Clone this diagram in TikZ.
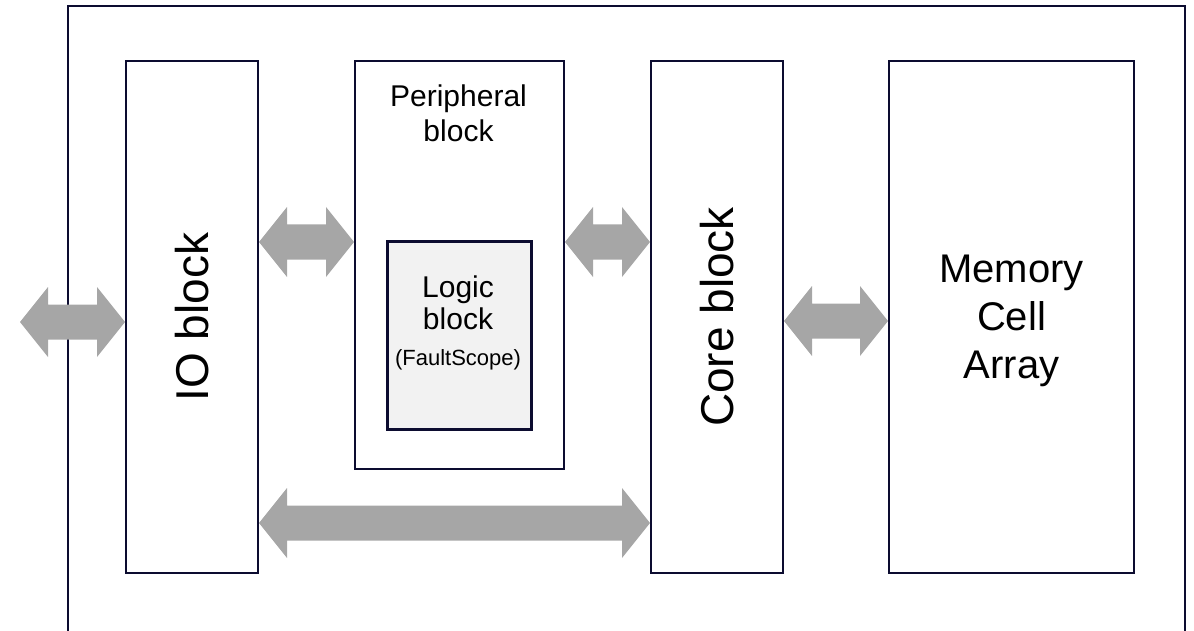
\documentclass[tikz,border=0pt]{standalone}
\usepackage{fontspec}
\setmainfont{Liberation Sans}
\usetikzlibrary{calc}
\definecolor{framec}{RGB}{12,12,48}
\definecolor{arrowgray}{RGB}{166,166,166}
\definecolor{logicfill}{RGB}{242,242,242}
\tikzset{
  blk/.style={draw=framec, line width=2pt, fill=white, inner sep=0pt, anchor=north west},
  logicbox/.style={draw=framec, line width=3pt, fill=logicfill, inner sep=0pt, anchor=north west},
  fatarrow/.style={fill=arrowgray, draw=none},
  bigtxt/.style={font=\fontsize{46}{46}\selectfont, rotate=90, inner sep=0pt},
  midtxt/.style={font=\fontsize{30}{35}\selectfont, anchor=base, inner sep=0pt},
  smalltxt/.style={font=\fontsize{22}{26}\selectfont, anchor=base, inner sep=0pt},
}
% double arrow between two tips #1 (left) and #2 (right)
\newcommand\fatarr[2]{%
  \fill[fatarrow] (#1) -- ([shift={(28,-35)}]#1) -- ([shift={(28,-17.5)}]#1)
    -- ([shift={(-28,-17.5)}]#2) -- ([shift={(-28,-35)}]#2) -- (#2)
    -- ([shift={(-28,35)}]#2) -- ([shift={(-28,17.5)}]#2)
    -- ([shift={(28,17.5)}]#1) -- ([shift={(28,35)}]#1) -- cycle;}
\begin{document}
\begin{tikzpicture}[x=1pt,y=-1pt]
\useasboundingbox (0,0) rectangle (1194,631);
% outer frame (open at bottom)
\coordinate (fbl) at (68,631);
\coordinate (ftl) at (68,6);
\coordinate (ftr) at (1185,6);
\coordinate (fbr) at (1185,631);
\draw[framec, line width=2pt] (fbl) -- (ftl) -- (ftr) -- (fbr);
% blocks
\node[blk, minimum width=132pt, minimum height=512pt] (io) at (125,60) {};
\node[blk, minimum width=209pt, minimum height=408pt] (per) at (354,60) {};
\node[logicbox, minimum width=144pt, minimum height=188pt] (logic) at (386,240) {};
\node[blk, minimum width=132pt, minimum height=512pt] (core) at (650,60) {};
\node[blk, minimum width=245pt, minimum height=512pt] (mem) at (888,60) {};
% texts
\node[bigtxt] (iot) at (io.center) {IO block};
\node[bigtxt] (coret) at (core.center) {Core block};
\node[align=center, font=\fontsize{40}{48}\selectfont, inner sep=0pt] (memt) at ($(mem.center)+(0,4)$) {Memory\\Cell\\Array};
\node[midtxt] (pert1) at (458.5,107) {Peripheral};
\node[midtxt] (pert2) at (458.5,142) {block};
\node[midtxt] (logt1) at (458,297) {Logic};
\node[midtxt] (logt2) at (458,329) {block};
\node[smalltxt] (logt3) at (458,365) {(FaultScope)};
% arrows
\coordinate (ext) at (20,322);
\coordinate (yA) at (0,242);
\coordinate (yB) at (0,321);
\coordinate (yC) at (0,523);
\coordinate (ioW) at (io.west |- ext);
\coordinate (ioE) at (io.east |- yA);
\coordinate (perW) at (per.west |- yA);
\coordinate (perE) at (per.east |- yA);
\coordinate (coreW) at (core.west |- yA);
\coordinate (coreE) at (core.east |- yB);
\coordinate (memW) at (mem.west |- yB);
\coordinate (ioEb) at (io.east |- yC);
\coordinate (coreWb) at (core.west |- yC);
\fatarr{ext}{ioW}
\fatarr{ioE}{perW}
\fatarr{perE}{coreW}
\fatarr{coreE}{memW}
\fatarr{ioEb}{coreWb}
\end{tikzpicture}
\end{document}
